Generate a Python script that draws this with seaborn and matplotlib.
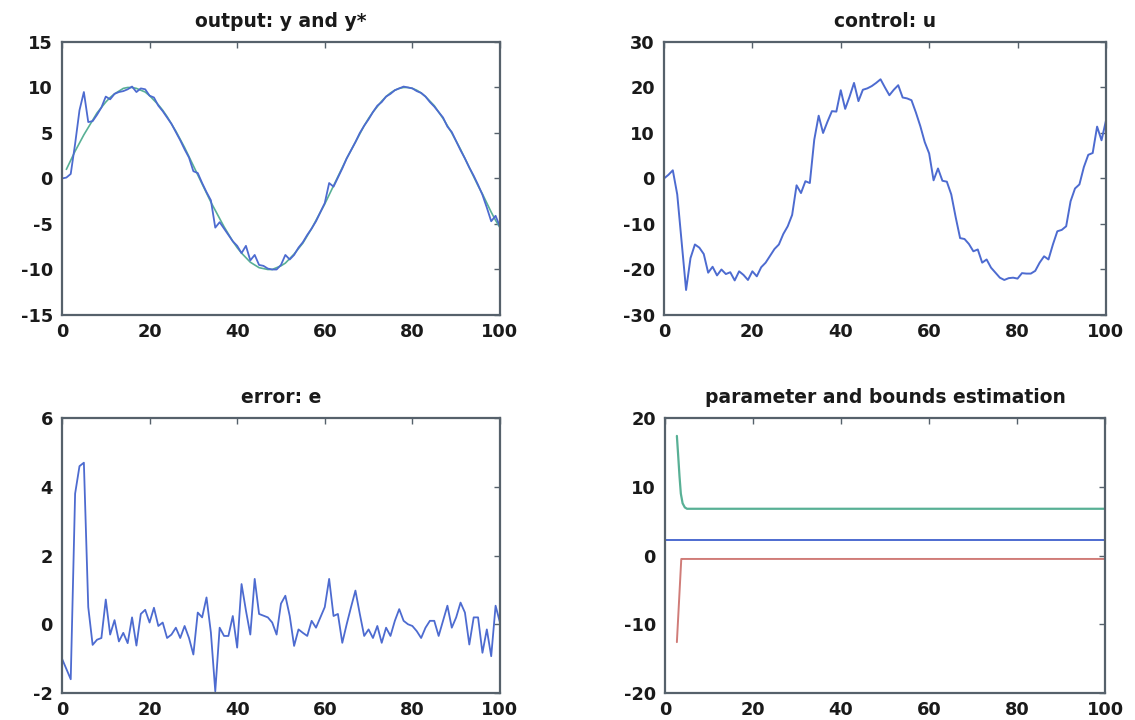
import matplotlib
matplotlib.use("Agg")
import matplotlib.pyplot as plt
import seaborn as sns

# ---------------- data ----------------
# output: reference y* (k = 1..100)
t_ref = list(range(1, 101))
y_ref = [1.0, 2.0, 3.0, 3.9, 4.8, 5.6, 6.4, 7.2, 7.8, 8.4,
         8.9, 9.3, 9.6, 9.9, 10.0, 10.0, 9.9, 9.7, 9.5, 9.1,
         8.6, 8.1, 7.5, 6.8, 6.0, 5.2, 4.3, 3.4, 2.4, 1.4,
         0.4, -0.6, -1.6, -2.6, -3.5, -4.4, -5.3, -6.1, -6.9, -7.6,
         -8.2, -8.7, -9.2, -9.5, -9.8, -9.9, -10.0, -10.0, -9.8, -9.6,
         -9.3, -8.8, -8.3, -7.7, -7.1, -6.3, -5.5, -4.6, -3.7, -2.8,
         -1.8, -0.8, 0.2, 1.2, 2.2, 3.1, 4.0, 4.9, 5.8, 6.6,
         7.3, 7.9, 8.5, 9.0, 9.4, 9.7, 9.9, 10.0, 10.0, 9.9,
         9.7, 9.4, 9.0, 8.5, 8.0, 7.3, 6.6, 5.8, 5.0, 4.1,
         3.2, 2.2, 1.2, 0.2, -0.8, -1.7, -2.7, -3.7, -4.6, -5.4]

# output: y (k = 0..100)
t = list(range(0, 101))
y_out = [0.0, 0.1, 0.5, 3.8, 7.5, 9.5, 6.2, 6.3, 7.0, 7.8, 9.0,
         8.7, 9.3, 9.5, 9.6, 9.8, 10.1, 9.5, 9.9, 9.8, 9.1,
         8.9, 8.0, 7.4, 6.7, 6.0, 5.1, 4.2, 3.2, 2.3, 0.8,
         0.6, -0.5, -1.5, -2.4, -5.4, -4.8, -5.5, -6.2, -6.9, -7.4,
         -8.2, -7.4, -9.0, -8.4, -9.5, -9.6, -9.9, -10.0, -10.0, -9.5,
         -8.4, -8.9, -8.4, -7.6, -7.0, -6.2, -5.5, -4.7, -3.7, -2.7,
         -0.5, -0.9, 0.1, 1.1, 2.2, 3.1, 4.0, 5.0, 5.8, 6.5,
         7.3, 8.0, 8.4, 9.0, 9.3, 9.7, 9.9, 10.1, 10.0, 9.9,
         9.6, 9.4, 9.0, 8.4, 7.9, 7.3, 6.7, 5.7, 5.1, 4.1,
         3.1, 2.2, 1.2, 0.3, -0.7, -1.8, -3.2, -4.7, -4.1, -5.3]

# control: u (k = 0..100)
u = [0.0, 0.8, 1.8, -3.5, -14.0, -24.5, -17.5, -14.5, -15.2, -16.6, -20.7,
     -19.4, -21.3, -20.0, -21.0, -20.6, -22.4, -20.4, -21.2, -22.3, -20.4,
     -21.5, -19.5, -18.5, -17.0, -15.5, -14.5, -12.2, -10.5, -8.0, -1.5,
     -3.2, -0.6, -1.0, 8.5, 13.8, 10.0, 12.5, 14.8, 14.7, 19.4,
     15.3, 18.0, 21.0, 17.0, 19.5, 19.8, 20.3, 21.0, 21.8, 20.0,
     18.3, 19.5, 20.5, 17.8, 17.6, 17.2, 14.5, 11.5, 8.0, 5.5,
     -0.4, 2.2, -0.5, -0.7, -3.5, -8.5, -13.1, -13.3, -14.4, -16.0,
     -15.6, -18.5, -17.8, -19.6, -20.7, -21.8, -22.3, -21.9, -21.8, -22.0,
     -20.8, -20.9, -20.9, -20.3, -18.5, -17.1, -17.8, -14.5, -11.6, -11.3,
     -10.5, -5.0, -2.2, -1.3, 2.5, 5.2, 5.6, 11.4, 8.4, 12.7]

# error: e (k = 0..100)
e = [-1.0, -1.3, -1.6, 3.8, 4.6, 4.7, 0.5, -0.6, -0.45, -0.4, 0.72,
     -0.3, 0.12, -0.5, -0.25, -0.55, 0.2, -0.62, 0.3, 0.42, 0.05,
     0.48, -0.05, 0.05, -0.4, -0.3, -0.1, -0.4, -0.05, -0.4, -0.88,
     0.34, 0.2, 0.78, -0.24, -1.95, -0.1, -0.34, -0.34, 0.24, -0.68,
     1.17, 0.4, -0.3, 1.32, 0.3, 0.25, 0.2, 0.05, -0.3, 0.6,
     0.83, 0.24, -0.63, -0.15, -0.25, -0.34, 0.1, -0.1, 0.2, 0.5,
     1.32, 0.24, 0.3, -0.54, 0.0, 0.5, 0.98, 0.3, -0.34, -0.15,
     -0.4, -0.05, -0.54, -0.1, -0.34, 0.1, 0.44, 0.1, 0.0, -0.05,
     -0.2, -0.4, -0.1, 0.1, 0.1, -0.34, 0.1, 0.54, -0.1, 0.2,
     0.63, 0.34, -0.59, 0.2, 0.2, -0.83, -0.15, -0.93, 0.54, 0.05]

# parameter and bounds estimation
t_upper = [2.7, 3.0, 3.3, 3.6, 4.0, 4.5, 5.0, 6.0, 100]
upper = [17.4, 14.5, 11.5, 9.0, 7.6, 7.0, 6.8, 6.8, 6.8]
t_param = [0, 100]
param = [2.2, 2.2]
t_lower = [2.7, 3.7, 4.0, 100]
lower = [-12.6, -0.5, -0.5, -0.5]

x_ticks = [0, 20, 40, 60, 80, 100]

# ---------------- style ----------------
sns.set_style("white")
plt.rcParams['font.family'] = ['DejaVu Sans']

BLUE = "#4d6bd0"
GREEN = "#58b095"
RED = "#d07c78"
SPINE = "#56616b"

fig = plt.figure(figsize=(11.35, 7.2), dpi=100)

pos = {
    "tl": [0.0546, 0.5625, 0.3859, 0.3792],
    "tr": [0.5850, 0.5625, 0.3894, 0.3792],
    "bl": [0.0546, 0.0375, 0.3859, 0.3819],
    "br": [0.5859, 0.0375, 0.3877, 0.3819],
}


def style(ax, title, ylim, yticks):
    ax.set_xlim(0, 100)
    ax.set_ylim(*ylim)
    ax.set_xticks(x_ticks)
    ax.set_yticks(yticks)
    ax.set_xticklabels([str(v) for v in x_ticks])
    ax.set_yticklabels([str(v) for v in yticks])
    ax.tick_params(direction="in", length=4, width=1, color=SPINE,
                   top=True, right=True, labelsize=12.8,
                   labelcolor="#1a1a1a")
    ax.tick_params(axis="x", pad=6)
    ax.tick_params(axis="y", pad=6.5)
    for lab in ax.get_xticklabels() + ax.get_yticklabels():
        lab.set_fontweight("bold")
    for s in ax.spines.values():
        s.set_color(SPINE)
        s.set_linewidth(1.6)
    ax.set_title(title, fontsize=13.5, pad=10.5, color="#1a1a1a",
                 fontweight="bold")
    ax.set_xlabel("")
    ax.set_ylabel("")


ax1 = fig.add_axes(pos["tl"])
sns.lineplot(x=t_ref, y=y_ref, ax=ax1, color=GREEN, linewidth=1.2)
sns.lineplot(x=t, y=y_out, ax=ax1, color=BLUE, linewidth=1.3)
style(ax1, "output: y and y*", (-15, 15), [-15, -10, -5, 0, 5, 10, 15])

ax2 = fig.add_axes(pos["tr"])
sns.lineplot(x=t, y=u, ax=ax2, color=BLUE, linewidth=1.4)
style(ax2, "control: u", (-30, 30), [-30, -20, -10, 0, 10, 20, 30])

ax3 = fig.add_axes(pos["bl"])
sns.lineplot(x=t, y=e, ax=ax3, color=BLUE, linewidth=1.3)
style(ax3, "error: e", (-2, 6), [-2, 0, 2, 4, 6])

ax4 = fig.add_axes(pos["br"])
sns.lineplot(x=t_upper, y=upper, ax=ax4, color=GREEN, linewidth=1.6)
sns.lineplot(x=t_param, y=param, ax=ax4, color=BLUE, linewidth=1.4)
sns.lineplot(x=t_lower, y=lower, ax=ax4, color=RED, linewidth=1.4)
style(ax4, "parameter and bounds estimation", (-20, 20), [-20, -10, 0, 10, 20])

fig.savefig("out.png", dpi=100, facecolor="white")
